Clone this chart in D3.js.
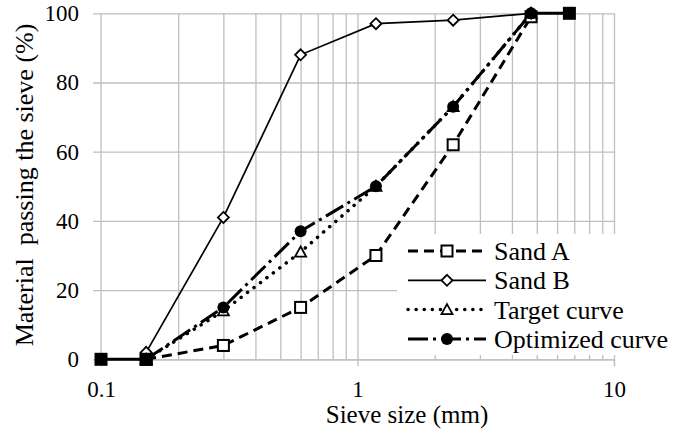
<!DOCTYPE html>
<html>
<head>
<meta charset="utf-8">
<script src="https://cdn.jsdelivr.net/npm/d3@7"></script>
<style>
  html, body { margin: 0; padding: 0; background: #fff; }
  svg { display: block; }
</style>
</head>
<body>
<svg id="chart" width="675" height="432"></svg>
<script>
// Sieve sizes (mm) and percentage passing for each grading curve
const sieveSizes = [0.15, 0.3, 0.6, 1.18, 2.36, 4.75];
const sandA = [0, 4, 15, 30, 62, 99];
const sandB = [2, 41, 88, 97, 98, 100];
const targetCurve = [0, 14, 31, 50, 73, 100];
const optimizedCurve = [0, 15, 37, 50, 73, 100];

// Extra end points of the optimized grading (filled squares)
const endSizes = [0.1, 0.15, 6.7];
const endValues = [0, 0, 100];

const xTickValues = [0.1, 1, 10];
const yTickValues = [0, 20, 40, 60, 80, 100];
const xGridValues = [0.2, 0.3, 0.4, 0.5, 0.6, 0.7, 0.8, 0.9, 1, 2, 3, 4, 5, 6, 7, 8, 9, 10];
const legendLabels = ["Sand A", "Sand B", "Target curve", "Optimized curve"];

const FONT = '"Liberation Serif"';
const svg = d3.select("#chart");
const plotLeft = 101, plotRight = 614, plotTop = 13.3, plotBottom = 359.3;

const x = d3.scaleLog().domain([0.1, 10]).range([plotLeft, plotRight]);
const y = d3.scaleLinear().domain([0, 100]).range([plotBottom, plotTop]);

const gridColor = "#bfbfbf";

// Vertical gridlines
svg.append("g")
  .attr("transform", `translate(0,${plotBottom})`)
  .call(d3.axisBottom(x).tickValues(xGridValues).tickSize(-(plotBottom - plotTop)).tickFormat(""))
  .call(g => g.select(".domain").remove())
  .call(g => g.selectAll("line").attr("stroke", gridColor).attr("stroke-width", 1.3));

// Horizontal gridlines with outer ticks on the left
svg.append("g")
  .attr("transform", `translate(${plotLeft},0)`)
  .call(d3.axisLeft(y).tickValues(yTickValues).tickSize(-(plotRight - plotLeft)).tickFormat(""))
  .call(g => g.select(".domain").remove())
  .call(g => g.selectAll("line").attr("stroke", gridColor).attr("stroke-width", 1.3).attr("x1", -8));

// Left axis line
svg.append("line").attr("x1", plotLeft).attr("x2", plotLeft).attr("y1", plotTop).attr("y2", plotBottom)
  .attr("stroke", gridColor).attr("stroke-width", 1.3);

const xAxis = svg.append("g")
  .attr("transform", `translate(0,${plotBottom})`)
  .attr("font-family", null).attr("font-size", null)
  .call(d3.axisBottom(x).tickValues(xTickValues).tickSize(7).tickPadding(14)
    .tickFormat(d => d3.format("")(d)));
xAxis.attr("font-family", FONT);
xAxis.select(".domain").attr("stroke", gridColor).attr("stroke-width", 1.3);
xAxis.selectAll("line").attr("stroke", gridColor).attr("stroke-width", 1.3);
xAxis.selectAll("text").attr("fill", "#000")
  .style("font-family", FONT).style("font-size", "23px");

// Y tick labels
const yAxis = svg.append("g")
  .attr("transform", `translate(${plotLeft},0)`)
  .call(d3.axisLeft(y).tickValues(yTickValues).tickSize(0).tickPadding(22));
yAxis.attr("font-family", FONT);
yAxis.select(".domain").remove();
yAxis.selectAll("text").attr("fill", "#000")
  .style("font-family", FONT).style("font-size", "23px");

// Axis titles
svg.append("text")
  .attr("x", 407).attr("y", 423)
  .attr("text-anchor", "middle")
  .style("font-family", FONT).style("font-size", "25px")
  .text("Sieve size (mm)");

svg.append("text")
  .attr("transform", "translate(33,185) rotate(-90)")
  .attr("text-anchor", "middle")
  .style("font-family", FONT).style("font-size", "26px")
  .style("white-space", "pre")
  .text("Material  passing the sieve (%)");

// Series definitions
const series = [
  { name: legendLabels[0], values: sandA, width: 3, dash: "10,6", marker: "square" },
  { name: legendLabels[1], values: sandB, width: 1.7, dash: null, marker: "diamond" },
  { name: legendLabels[2], values: targetCurve, width: 3.5, dash: "0.1,8", cap: "round", marker: "triangle" },
  { name: legendLabels[3], values: optimizedCurve, width: 3, dash: "20,5,3,5", marker: "circle" }
];

const line = d3.line().x(d => x(d[0])).y(d => y(d[1]));

function drawMarker(g, type, cx, cy) {
  if (type === "square") {
    g.append("rect").attr("x", cx - 5.5).attr("y", cy - 5.5).attr("width", 11).attr("height", 11)
      .attr("fill", "#fff").attr("stroke", "#000").attr("stroke-width", 2);
  } else if (type === "diamond") {
    g.append("path").attr("d", `M${cx},${cy - 5.5}L${cx + 5.5},${cy}L${cx},${cy + 5.5}L${cx - 5.5},${cy}Z`)
      .attr("fill", "#fff").attr("stroke", "#000").attr("stroke-width", 1.8);
  } else if (type === "triangle") {
    g.append("path").attr("d", `M${cx},${cy - 5.5}L${cx + 5.5},${cy + 4.5}L${cx - 5.5},${cy + 4.5}Z`)
      .attr("fill", "#fff").attr("stroke", "#000").attr("stroke-width", 1.8);
  } else if (type === "circle") {
    g.append("circle").attr("cx", cx).attr("cy", cy).attr("r", 6).attr("fill", "#000");
  } else if (type === "filledSquare") {
    g.append("rect").attr("x", cx - 6.5).attr("y", cy - 6.5).attr("width", 13).attr("height", 13)
      .attr("fill", "#000");
  }
}

const plot = svg.append("g");

series.forEach(s => {
  const pts = sieveSizes.map((d, i) => [d, s.values[i]]);
  plot.append("path").datum(pts)
    .attr("d", line).attr("fill", "none").attr("stroke", "#000")
    .attr("stroke-width", s.width)
    .attr("stroke-dasharray", s.dash)
    .attr("stroke-linecap", s.cap || "butt");
});

// Solid end segments of the optimized grading
const lastOpt = [sieveSizes[sieveSizes.length - 1], optimizedCurve[optimizedCurve.length - 1]];
plot.append("path")
  .datum([[endSizes[0], endValues[0]], [endSizes[1], endValues[1]]])
  .attr("d", line).attr("fill", "none").attr("stroke", "#000").attr("stroke-width", 3);
plot.append("path")
  .datum([lastOpt, [endSizes[2], endValues[2]]])
  .attr("d", line).attr("fill", "none").attr("stroke", "#000").attr("stroke-width", 3);

series.forEach(s => {
  const mg = plot.append("g");
  sieveSizes.forEach((d, i) => drawMarker(mg, s.marker, x(d), y(s.values[i])));
});

const endG = plot.append("g");
endSizes.forEach((d, i) => drawMarker(endG, "filledSquare", x(d), y(endValues[i])));

// Legend
const legend = svg.append("g");
legend.append("rect").attr("x", 397).attr("y", 234).attr("width", 278).attr("height", 121).attr("fill", "#fff");
series.forEach((s, i) => {
  const ly = 251 + i * 29.3;
  legend.append("line").attr("x1", 408).attr("x2", 486).attr("y1", ly).attr("y2", ly)
    .attr("stroke", "#000").attr("stroke-width", s.width)
    .attr("stroke-dasharray", s.dash).attr("stroke-linecap", s.cap || "butt");
  drawMarker(legend, s.marker, 447, ly);
  legend.append("text").attr("x", 494).attr("y", ly).attr("dy", "0.35em")
    .style("font-family", FONT).style("font-size", "26px")
    .text(s.name);
});
</script>
</body>
</html>
